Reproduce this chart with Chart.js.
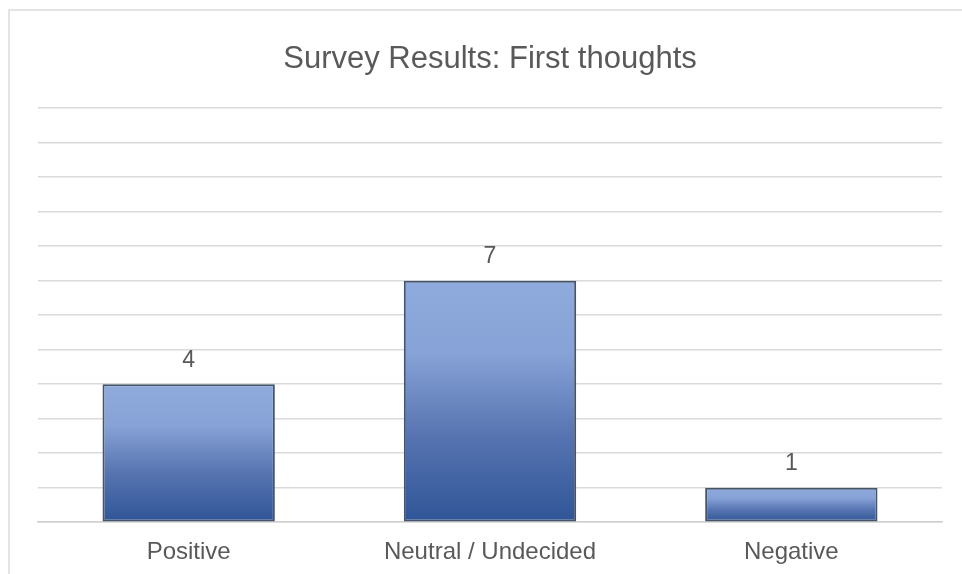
<!DOCTYPE html>
<html>
<head>
<meta charset="utf-8">
<script src="https://cdn.jsdelivr.net/npm/chart.js@4/dist/chart.umd.min.js"></script>
<style>
  html, body { margin: 0; padding: 0; background: #ffffff; overflow: hidden; }
  #frame { position: absolute; left: 8px; top: 9px; width: 1000px; height: 620px; border: 2px solid #e3e3e3; box-sizing: border-box; }
  #wrap { position: absolute; left: 0; top: 0; width: 962px; height: 574px; overflow: hidden; }
</style>
</head>
<body>
<div id="frame"></div>
<div id="wrap"><canvas id="c" width="962" height="588"></canvas></div>
<script>
const categories = ["Positive", "Neutral / Undecided", "Negative"];
const responses = [4, 7, 1];
const chartTitle = "Survey Results: First thoughts";
const axisMax = 12;

const FONT = "'Liberation Sans', Arial, sans-serif";
const TEXT = "#595959";

const barGradient = (ctx) => {
  const chart = ctx.chart;
  if (!chart.chartArea || ctx.raw === undefined) return "#6f8cc6";
  const y = chart.scales.y;
  const top = y.getPixelForValue(ctx.raw);
  const bot = y.getPixelForValue(0);
  const g = chart.ctx.createLinearGradient(0, top, 0, bot);
  g.addColorStop(0, "#8faadc");
  g.addColorStop(0.3, "#87a2d6");
  g.addColorStop(0.65, "#5673b0");
  g.addColorStop(1, "#2f5597");
  return g;
};

const valueLabels = {
  id: "valueLabels",
  afterDatasetsDraw(chart) {
    const c = chart.ctx;
    const meta = chart.getDatasetMeta(0);
    c.save();
    c.font = "23px " + FONT;
    c.fillStyle = TEXT;
    c.textAlign = "center";
    c.textBaseline = "middle";
    meta.data.forEach((bar, i) => {
      c.fillText(String(responses[i]), bar.x, bar.y - 24);
    });
    c.restore();
  }
};

new Chart(document.getElementById("c"), {
  type: "bar",
  data: {
    labels: categories,
    datasets: [{
      data: responses,
      backgroundColor: barGradient,
      borderColor: "#44546a",
      borderWidth: 2,
      borderSkipped: false,
      barPercentage: 0.572,
      categoryPercentage: 1
    }]
  },
  options: {
    responsive: false,
    animation: false,
    devicePixelRatio: 1,
    layout: { padding: { left: 38, right: 20, top: 0, bottom: 5 } },
    plugins: {
      legend: { display: false },
      tooltip: { enabled: false },
      title: {
        display: true,
        text: chartTitle,
        color: TEXT,
        font: { family: FONT, size: 31, weight: "normal" },
        padding: { top: 41, bottom: 30 }
      }
    },
    scales: {
      x: {
        grid: { display: false, drawTicks: false },
        border: { display: true, color: "#d0d0d0", width: 1.5 },
        ticks: { color: TEXT, font: { family: FONT, size: 24 }, padding: 16 }
      },
      y: {
        min: 0,
        max: axisMax,
        ticks: { display: false, stepSize: 1 },
        grid: { color: "#dadada", lineWidth: 1.5, drawTicks: false },
        border: { display: false }
      }
    }
  },
  plugins: [valueLabels]
});
</script>
</body>
</html>
